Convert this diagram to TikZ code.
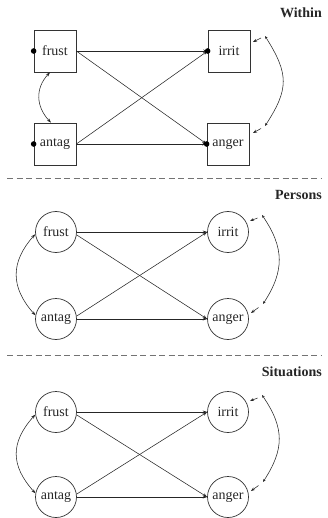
\documentclass[tikz,border=0pt]{standalone}
\usepackage{fontspec}
\setmainfont{Liberation Serif}
\usetikzlibrary{arrows.meta,calc}
\begin{document}
\begin{tikzpicture}[x=1pt,y=-1pt,
  font=\fontsize{14}{16}\selectfont,
  every node/.style={text=black!85},
  sqvar/.style={draw=black!80, line width=0.7pt, minimum size=42pt, inner sep=0pt},
  cvar/.style={draw=black!80, circle, line width=0.7pt, minimum size=41pt, inner sep=0pt},
  regr/.style={line width=0.55pt, draw=black!85, -{Stealth[length=4.5pt,width=3pt]}},
  covar/.style={line width=0.55pt, draw=black!85, {Stealth[length=4.5pt,width=3pt]}-{Stealth[length=4.5pt,width=3pt]}},
  covline/.style={line width=0.55pt, draw=black!85, {Stealth[length=3pt,width=2.5pt]}-{Stealth[length=3pt,width=2.5pt]}},
  tipseg/.style={line width=0.55pt, draw=black!85, -{Stealth[length=4pt,width=3pt]}},
  titletext/.style={font=\fontsize{14}{16}\selectfont\bfseries, anchor=east, inner sep=0pt},
  divider/.style={draw=black!55, line width=0.7pt, dash pattern=on 6pt off 3.5pt},
  dotmark/.style={fill=black}
]
\useasboundingbox (0,0) rectangle (328,518);

% ---------------- Within ----------------
\node[titletext] (tw) at (322,13) {Within};
\node[sqvar] (wf) at (55,51) {frust};
\node[sqvar] (wi) at (229,51) {irrit};
\node[sqvar] (wa) at (55,144) {antag};
\node[sqvar] (wn) at (228,144) {anger};
\draw[regr] (wf.east) -- (wi.west);
\draw[regr] (wf.east) -- (wn.west);
\draw[regr] (wa.east) -- (wi.west);
\draw[regr] (wa.east) -- (wn.west);
\fill[dotmark] (wf.west) circle (2.8);
\fill[dotmark] (wi.west) circle (2.8);
\fill[dotmark] (wa.west) circle (2.8);
\fill[dotmark] (wn.west) circle (2.8);
\draw[covar] ([xshift=-5pt]wf.south) .. controls +(-15,16) and +(-15,-16) .. ([xshift=-4pt]wa.north);
\coordinate (wit) at ($(wi)+(24,-9)$);
\coordinate (wis) at ($(wi)+(32,-13)$);
\coordinate (wie) at ($(wi)+(36,-15)$);
\coordinate (wnt) at ($(wn)+(25,-11)$);
\coordinate (wns) at ($(wn)+(33,-15.5)$);
\coordinate (wne) at ($(wn)+(37,-18)$);
\draw[covline] (wie) .. controls +(24,38) and +(24,-37) .. (wne);
\draw[tipseg] (wis) -- (wit);
\draw[tipseg] (wns) -- (wnt);

\draw[divider] (7,178) -- (322,178);

% ---------------- Persons ----------------
\node[titletext] (tp) at (322,195) {Persons};
\node[cvar] (pf) at (56,232) {frust};
\node[cvar] (pi) at (228,232) {irrit};
\node[cvar] (pa) at (56,319) {antag};
\node[cvar] (pn) at (228,319) {anger};
\draw[regr] (pf.east) -- (pi.west);
\draw[regr] (pf.-8) -- (pn.west);
\draw[regr] (pa.8) -- (pi.west);
\draw[regr] (pa.east) -- (pn.west);
\draw[covar] (pf.186) .. controls +(-25,28) and +(-25,-28) .. (pa.170);
\coordinate (pit) at ($(pi)+(22,-11)$);
\coordinate (pis) at ($(pi)+(29.5,-14)$);
\coordinate (pie) at ($(pi)+(34,-17)$);
\coordinate (pnt) at ($(pn)+(23,-6)$);
\coordinate (pns) at ($(pn)+(30.5,-11.5)$);
\coordinate (pne) at ($(pn)+(35,-15)$);
\draw[covline] (pie) .. controls +(22.5,33) and +(21.5,-33) .. (pne);
\draw[tipseg] (pis) -- (pit);
\draw[tipseg] (pns) -- (pnt);

\draw[divider] (7,355) -- (322,355);

% ---------------- Situations ----------------
\node[titletext] (ts) at (322,372) {Situations};
\node[cvar] (sf) at (56,412) {frust};
\node[cvar] (si) at (228,412) {irrit};
\node[cvar] (sa) at (56,497) {antag};
\node[cvar] (sn) at (228,497) {anger};
\draw[regr] (sf.east) -- (si.west);
\draw[regr] (sf.-8) -- (sn.west);
\draw[regr] (sa.8) -- (si.west);
\draw[regr] (sa.east) -- (sn.west);
\draw[covar] (sf.187) .. controls +(-25,28) and +(-25,-28) .. (sa.170);
\coordinate (sit) at ($(si)+(22,-11)$);
\coordinate (sis) at ($(si)+(29.5,-14)$);
\coordinate (sie) at ($(si)+(34,-17)$);
\coordinate (snt) at ($(sn)+(23,-6)$);
\coordinate (sns) at ($(sn)+(30.5,-11.5)$);
\coordinate (sne) at ($(sn)+(35,-15)$);
\draw[covline] (sie) .. controls +(22.5,33) and +(21.5,-33) .. (sne);
\draw[tipseg] (sis) -- (sit);
\draw[tipseg] (sns) -- (snt);
\end{tikzpicture}
\end{document}
